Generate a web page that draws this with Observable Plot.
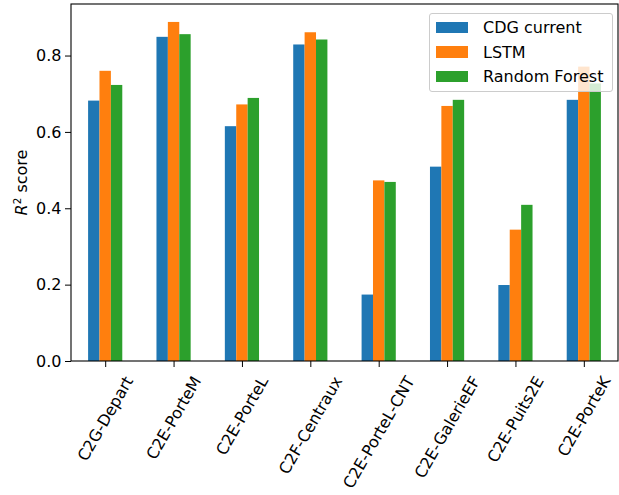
<!DOCTYPE html>
<html>
<head>
<meta charset="utf-8">
<script src="https://cdn.jsdelivr.net/npm/d3@7"></script>
<script src="https://cdn.jsdelivr.net/npm/@observablehq/plot@0.6"></script>
<style>
  html, body { margin: 0; padding: 0; background: white; }
  #wrap { position: relative; width: 619px; height: 495px; overflow: hidden; }
  #legend {
    position: absolute; left: 429px; top: 13px; width: 184px; height: 79px;
    border: 1px solid #cccccc; border-radius: 3px; background: rgba(255,255,255,0.8);
    font-family: "DejaVu Sans", sans-serif; font-size: 16px; color: #000;
    padding-top: 1px; box-sizing: border-box;
  }
  .row { display: flex; align-items: center; height: 24.7px; }
  .sw { width: 32px; height: 11.5px; margin-left: 6px; margin-right: 15px; }
</style>
</head>
<body>
<div id="wrap"></div>
<script>
const categories = ["C2G-Depart","C2E-PorteM","C2E-PorteL","C2F-Centraux","C2E-PorteL-CNT","C2E-GalerieEF","C2E-Puits2E","C2E-PorteK"];
const series = ["CDG current","LSTM","Random Forest"];
const cdgCurrent = [0.682,0.849,0.615,0.829,0.174,0.509,0.199,0.684];
const lstm = [0.760,0.888,0.672,0.861,0.473,0.668,0.344,0.771];
const randomForest = [0.723,0.856,0.689,0.842,0.469,0.684,0.409,0.727];
const colors = ["#1f77b4","#ff7f0e","#2ca02c"];
const yTicks = [0,0.2,0.4,0.6,0.8];

const seriesValues = [cdgCurrent, lstm, randomForest];
const data = [];
categories.forEach((c, i) => {
  series.forEach((s, j) => data.push({cat: c, series: s, value: seriesValues[j][i]}));
});

const chart = Plot.plot({
  width: 619, height: 495,
  marginLeft: 71, marginRight: 1, marginTop: 4, marginBottom: 134,
  style: {fontFamily: "DejaVu Sans", fontSize: "16px", color: "black", background: "white"},
  fx: {domain: categories, padding: 0, round: false, label: null},
  x: {domain: series, paddingInner: 0, paddingOuter: 1.5, round: false, axis: null},
  y: {domain: [0, 0.935], label: null},
  color: {domain: series, range: colors},
  marks: [
    Plot.barY(data, {fx: "cat", x: "series", y: "value", fill: "series"}),
    Plot.axisY({ticks: yTicks, tickFormat: d => d.toFixed(1), tickSize: 6, tickPadding: 4, label: null}),
    Plot.axisFx({anchor: "bottom", tickRotate: -60, tickSize: 6, tickPadding: 4, label: null})
  ]
});
document.getElementById("wrap").appendChild(chart);

const svg = d3.select(chart);
const fxRange = chart.scale("fx").range;
const yRange = chart.scale("y").range;

// full box frame (matplotlib spines)
svg.append("rect")
  .attr("x", fxRange[0]).attr("y", yRange[1])
  .attr("width", fxRange[1] - fxRange[0]).attr("height", yRange[0] - yRange[1])
  .attr("fill", "none").attr("stroke", "black").attr("stroke-width", 1.1);

// matplotlib-style rotated labels: bounding box centered under the tick
svg.selectAll('g[aria-label="fx-axis tick label"] text').each(function() {
  const L = this.getComputedTextLength();
  const t = this.getAttribute("transform") || "";
  const m = t.match(/translate\(([-\d.]+),\s*([-\d.]+)\)/);
  if (!m) return;
  const X = +m[1], Y = +m[2];
  const shift = 0.433 * L + 6.4;
  this.setAttribute("text-anchor", "middle");
  this.setAttribute("transform", `translate(${X},${Y + shift}) rotate(-60)`);
});

// y label: italic R with superscript 2
const yLabel = svg.append("text")
  .attr("transform", `translate(${fxRange[0] - 44.3},${(yRange[0] + yRange[1]) / 2}) rotate(-90)`)
  .attr("text-anchor", "middle")
  .attr("font-family", "DejaVu Sans").attr("font-size", 16).attr("fill", "black");
yLabel.append("tspan").attr("font-style", "italic").text("R");
yLabel.append("tspan").attr("baseline-shift", "super").attr("font-size", "0.65em").text("2");
yLabel.append("tspan").text(" score");

// legend
const legend = d3.select("#wrap").append("div").attr("id", "legend");
series.forEach((s, i) => {
  const row = legend.append("div").attr("class", "row");
  row.append("div").attr("class", "sw").style("background", colors[i]);
  row.append("span").text(s);
});
</script>
</body>
</html>
